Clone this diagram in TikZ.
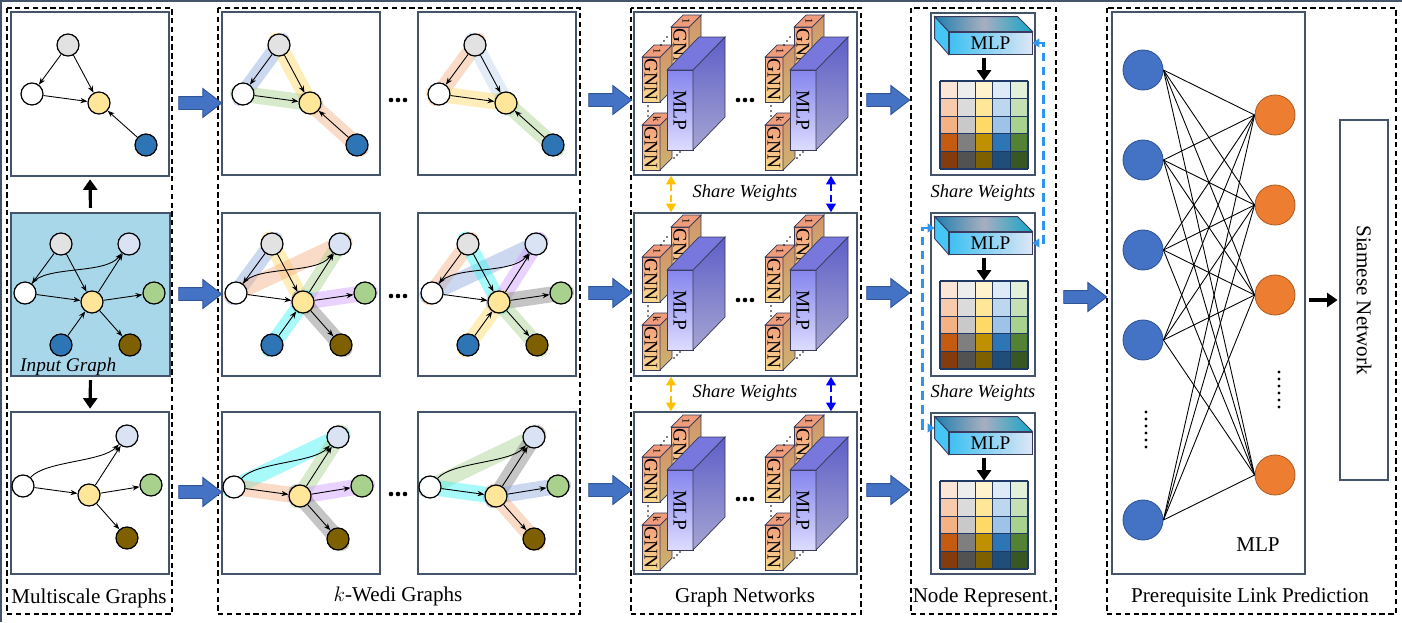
\documentclass[tikz,border=0pt]{standalone}
\usepackage{fontspec}
\setmainfont{Liberation Serif}
\usetikzlibrary{arrows.meta, positioning, shapes.arrows, fit, backgrounds}
\definecolor{frame}{HTML}{44546A}
\definecolor{nGray}{HTML}{E2E2E2}
\definecolor{nLblue}{HTML}{DAE3F3}
\definecolor{nYel}{HTML}{FFE699}
\definecolor{nGreen}{HTML}{A9D18E}
\definecolor{nBlue}{HTML}{2E75B6}
\definecolor{nBrown}{HTML}{7F6000}
\definecolor{inFill}{HTML}{A9D7EA}
\definecolor{fatBlue}{HTML}{4472C4}
\definecolor{fatEdge}{HTML}{2F5597}
\definecolor{hBlue}{HTML}{8FAADC}
\definecolor{hYel}{HTML}{FFD966}
\definecolor{hGreen}{HTML}{A9D18E}
\definecolor{hSalmon}{HTML}{F4B183}
\definecolor{hCyan}{HTML}{3FF5F5}
\definecolor{hViolet}{HTML}{D09CFF}
\definecolor{hGray}{HTML}{7F7F7F}
\definecolor{hLblue}{HTML}{BDD7EE}
\definecolor{gnnTop}{HTML}{F2A07E}
\definecolor{gnnBot}{HTML}{FAD88E}
\definecolor{gnnSideA}{HTML}{D3946A}
\definecolor{gnnSideB}{HTML}{CDB473}
\definecolor{gnnLid}{HTML}{EE9C7C}
\definecolor{mlpTop}{HTML}{8585EE}
\definecolor{mlpBot}{HTML}{DCDCFF}
\definecolor{mlpSideA}{HTML}{5F5FC8}
\definecolor{mlpSideB}{HTML}{A5A5D2}
\definecolor{mlpLid}{HTML}{7777DD}
\definecolor{boxLine}{HTML}{3A3A5A}
\definecolor{barL}{HTML}{3EC0F2}
\definecolor{barR}{HTML}{DCE6F5}
\definecolor{barLidA}{HTML}{1E7FB0}
\definecolor{barLidB}{HTML}{A8AEBF}
\definecolor{barSide}{HTML}{45C6F5}
\definecolor{gridLine}{HTML}{1F3864}
\definecolor{shareO}{HTML}{FFC000}
\definecolor{shareB}{HTML}{0000FF}
\definecolor{shareL}{HTML}{2E95EE}
\definecolor{nnBlue}{HTML}{4472C4}
\definecolor{nnOrange}{HTML}{ED7D31}
\tikzset{
  vx/.style={circle, draw=black, line width=0.7pt, minimum size=0.44cm, inner sep=0pt},
  gedge/.style={-{Stealth[length=4pt,width=3pt]}, line width=0.5pt},
  hl/.style={draw=#1, line width=9pt, line cap=round, opacity=0.45, shorten <=-3pt, shorten >=-3pt},
  panel/.style={draw=frame, line width=0.8pt, inner sep=0pt},
  colbox/.style={draw=black, line width=0.6pt, dash pattern=on 3pt off 2pt},
  fat/.style={single arrow, draw=fatEdge, fill=fatBlue, minimum height=0.86cm, inner xsep=0pt, inner ysep=0.12cm,
    single arrow head extend=0.16cm, single arrow tip angle=75, line width=0.5pt},
  blk/.style={-{Triangle[width=8pt,length=6pt]}, line width=1.8pt},
  lbl/.style={font=\fontsize{12}{14}\selectfont},
  sw/.style={font=\fontsize{10.5}{12}\selectfont\itshape},
  shO/.style={{Triangle[width=5.5pt,length=5pt]}-{Triangle[width=5.5pt,length=5pt]}, draw=shareO, line width=1.5pt, dash pattern=on 4pt off 2.5pt},
  shB/.style={shO, draw=shareB},
  shL/.style={{Triangle[width=5pt,length=4pt]}-{Triangle[width=5pt,length=4pt]}, draw=shareL, line width=1.7pt, dash pattern=on 5pt off 3pt},
  mlpbar/.style={draw=boxLine, line width=0.5pt, left color=barL, right color=barR, minimum width=1.66cm,
    minimum height=0.44cm, inner sep=0pt, font=\fontsize{11}{11}\selectfont},
  nin/.style={circle, fill=nnBlue, draw=fatEdge, line width=0.5pt, minimum size=0.8cm, inner sep=0pt},
  nout/.style={circle, fill=nnOrange, draw=nnOrange!75!black, line width=0.5pt, minimum size=0.8cm, inner sep=0pt},
  pics/gnn/.style={code={
    \shadedraw[top color=gnnTop, bottom color=gnnBot, draw=boxLine, line width=0.4pt] (0,0) rectangle (18,45);
    \shadedraw[top color=gnnSideA, bottom color=gnnSideB, draw=boxLine, line width=0.4pt] (18,0) -- (30,-12) -- (30,33) -- (18,45) -- cycle;
    \filldraw[fill=gnnLid, draw=boxLine, line width=0.4pt] (0,0) -- (12,-12) -- (30,-12) -- (18,0) -- cycle;
    \node[rotate=-90, inner sep=0pt, font=\fontsize{11}{11}\selectfont] (-txt) at (9,22.5) {GNN};
    \node[rotate=-90, inner sep=0pt, font=\fontsize{6}{6}\selectfont] (-idx) at (15,-6) {#1};
  }},
  pics/mlpblk/.style={code={
    \shadedraw[top color=mlpTop, bottom color=mlpBot, draw=boxLine, line width=0.4pt] (0,0) rectangle (26,80);
    \shadedraw[top color=mlpSideA, bottom color=mlpSideB, draw=boxLine, line width=0.4pt] (26,0) -- (58,-33) -- (58,47) -- (26,80) -- cycle;
    \filldraw[fill=mlpLid, draw=boxLine, line width=0.4pt] (0,0) -- (32,-33) -- (58,-33) -- (26,0) -- cycle;
    \node[rotate=-90, inner sep=0pt, font=\fontsize{11}{11}\selectfont] (-txt) at (13,40) {MLP};
  }},
}
% small graphs, positions taken from the panel's top left corner
\newcommand\graphA[2]{%
  \begin{scope}[shift={#2}]
    \node[vx, fill=nGray] (#1g) at (57,33) {};
    \node[vx, fill=white] (#1w) at (21,82) {};
    \node[vx, fill=nYel] (#1y) at (88,91) {};
    \node[vx, fill=nBlue] (#1b) at (135,133) {};
  \end{scope}
  \draw[gedge] (#1g) -- (#1w);
  \draw[gedge] (#1g) -- (#1y);
  \draw[gedge] (#1w) -- (#1y);
  \draw[gedge] (#1b) -- (#1y);
}
\newcommand\graphB[2]{%
  \begin{scope}[shift={#2}]
    \node[vx, fill=nGray] (#1g) at (50,31) {};
    \node[vx, fill=nLblue] (#1l) at (118,31) {};
    \node[vx, fill=white] (#1w) at (14,80) {};
    \node[vx, fill=nYel] (#1y) at (81,89) {};
    \node[vx, fill=nGreen] (#1gr) at (143,80) {};
    \node[vx, fill=nBlue] (#1b) at (50,132) {};
    \node[vx, fill=nBrown] (#1br) at (119,132) {};
  \end{scope}
  \draw[gedge] (#1g) -- (#1w);
  \draw[gedge] (#1g) -- (#1y);
  \draw[gedge] (#1w) -- (#1y);
  \draw[gedge] (#1w) .. controls +(20,-28) and +(-24,31) .. (#1l);
  \draw[gedge] (#1y) -- (#1l);
  \draw[gedge] (#1y) -- (#1gr);
  \draw[gedge] (#1y) -- (#1br);
  \draw[gedge] (#1b) -- (#1y);
}
\newcommand\graphC[2]{%
  \begin{scope}[shift={#2}]
    \node[vx, fill=nLblue] (#1l) at (116,24) {};
    \node[vx, fill=white] (#1w) at (12,74) {};
    \node[vx, fill=nYel] (#1y) at (78,83) {};
    \node[vx, fill=nGreen] (#1gr) at (140,73) {};
    \node[vx, fill=nBrown] (#1br) at (116,126) {};
  \end{scope}
  \draw[gedge] (#1w) .. controls +(22,-25) and +(-25,26) .. (#1l);
  \draw[gedge] (#1w) -- (#1y);
  \draw[gedge] (#1y) -- (#1l);
  \draw[gedge] (#1y) -- (#1gr);
  \draw[gedge] (#1y) -- (#1br);
}
\newcommand\bands[2]{%
  \begin{scope}[on background layer]
    \foreach \p/\q/\c in {#2} \draw[hl=\c] (#1\p.center) -- (#1\q.center);
  \end{scope}}
\newcommand\gnnstack[2]{%
  \begin{scope}[shift={#2}]
    \pic (#1a) at (671,27) {gnn=1};
    \pic (#1b) at (642,57) {gnn=1};
    \pic (#1c) at (642,125) {gnn=k};
    \foreach \k in {0,1,2} {
      \fill (648,106+5*\k) circle (0.5pt);
      \fill (661+3*\k,45-4*\k) circle (0.5pt);
      \fill (674+3*\k,158-3*\k) circle (0.5pt);
    }
    \pic (#1m) at (667,70) {mlpblk};
  \end{scope}}
\newcommand\repmlp[2]{%
  \node[mlpbar] (#1) at #2 {MLP};
  \shadedraw[left color=barLidA, right color=barLidA!70!cyan, middle color=barLidB, draw=boxLine, line width=0.5pt]
    (#1.north west) -- ++(-14,-15) -- ++(83,0) -- (#1.north east) -- cycle;
  \filldraw[fill=barSide, draw=boxLine, line width=0.5pt]
    (#1.north west) -- ++(-14,-15) -- ++(0,22) -- (#1.south west) -- cycle;
}
\newcommand\repgrid[2]{%
  \begin{scope}[shift={#2}]
    \foreach \cl [count=\i from 0] in {{FBE5D6,F8CBAD,F4B183,C55A11,843C0C},{EDEDED,DBDBDB,C9C9C9,7F7F7F,525252},{FFF2CC,FFE699,FFD966,BF9000,7F6000},{DEEBF7,BDD7EE,9DC3E6,2E75B6,1F4E79},{E2F0D9,C5E0B4,A9D18E,548235,385723}}
      \foreach \hx [count=\j from 0] in \cl {
        \definecolor{cellc}{HTML}{\hx}
        \fill[cellc] (17.6*\i,17.6*\j) rectangle ++(17.6,17.6);
      }
    \foreach \k in {0,...,5} {
      \draw[gridLine, line width=0.6pt] (17.6*\k,0) -- (17.6*\k,88);
      \draw[gridLine, line width=0.6pt] (0,17.6*\k) -- (88,17.6*\k);
    }
    \node[fit={(0,0) (88,88)}, inner sep=0pt] (#1) {};
  \end{scope}}
\newcommand\threedots[1]{%
  \foreach \k in {-1,0,1} \fill #1 ++(7*\k,0) circle (1.3pt);}

\begin{document}
\begin{tikzpicture}[x=0.02cm, y=-0.02cm]
  \begin{scope}[on background layer]
    \fill[white] (0,0) rectangle (1402,622);
  \end{scope}
  \useasboundingbox (0,0) rectangle (1402,622);
  \draw[frame, line width=0.8pt] (1,622) -- (1,1) -- (1402,1);

  % column frames
  \draw[colbox] (7,8) rectangle (172,614);
  \draw[colbox] (218,8) rectangle (580,614);
  \draw[colbox] (631,8) rectangle (861,614);
  \draw[colbox] (911,8) rectangle (1056,614);
  \draw[colbox] (1107,8) rectangle (1396,614);

  % multiscale graphs
  \node[panel, fit={(11,12) (169,176)}] (p1) {};
  \node[panel, fill=inFill, fit={(11,213) (170,376)}] (p2) {};
  \node[panel, fit={(11,412) (169,574)}] (p3) {};
  \graphA{i1}{(11,12)}
  \graphB{i2}{(11,213)}
  \graphC{i3}{(11,412)}
  \node[anchor=west, font=\fontsize{11}{12}\selectfont\itshape] (inp) at (14,367) {Input Graph};
  \draw[blk, shorten <=2.5pt, shorten >=1.5pt] (p2.north) -- (p1.south);
  \draw[blk, shorten <=2pt, shorten >=1.5pt] (p2.south) -- (p3.north);
  \node[lbl] (t1) at (89,598) {Multiscale Graphs};

  % k-wedi graphs
  \foreach \xx/\s in {222/a, 418/b} {
    \node[panel, fit={(\xx,12) (\xx+158,175)}] (w1\s) {};
    \node[panel, fit={(\xx,213) (\xx+158,376)}] (w2\s) {};
    \node[panel, fit={(\xx,412) (\xx+158,574)}] (w3\s) {};
  }
  \graphA{r1a}{(222,12)}
  \graphA{r1b}{(418,12)}
  \graphB{r2a}{(222,213)}
  \graphB{r2b}{(418,213)}
  \graphC{r3a}{(222,413)}
  \graphC{r3b}{(418,413)}
  \bands{r1a}{g/w/hBlue, g/y/hYel, w/y/hGreen, y/b/hSalmon}
  \bands{r1b}{g/w/hSalmon, g/y/hLblue, w/y/hYel, y/b/hGreen}
  \bands{r2a}{g/w/hBlue, g/y/hYel, w/l/hSalmon, y/l/hGreen, y/gr/hViolet, y/br/hGray, b/y/hCyan}
  \bands{r2b}{g/w/hSalmon, w/l/hBlue, g/y/hCyan, y/l/hViolet, y/gr/hGray, y/br/hGreen, b/y/hYel}
  \bands{r3a}{w/l/hCyan, w/y/hSalmon, y/l/hGreen, y/gr/hViolet, y/br/hGray}
  \bands{r3b}{w/l/hGreen, w/y/hCyan, y/l/hGray, y/gr/hBlue, y/br/hSalmon}
  \threedots{(398,100)}
  \threedots{(398,296)}
  \threedots{(398,494)}
  \node[lbl] (t2) at (398,596) {$k$-Wedi Graphs};

  % graph networks
  \node[panel, fit={(634,12) (857,175)}] (g1) {};
  \node[panel, fit={(634,213) (857,376)}] (g2) {};
  \node[panel, fit={(634,412) (857,574)}] (g3) {};
  \foreach \r in {0,1,2}
    \foreach \g in {0,1} {\gnnstack{s\r\g}{(123*\g,200*\r)}}
  \threedots{(745,100)}
  \threedots{(745,300)}
  \threedots{(745,499)}
  \draw[shO] ([xshift=-1.49cm]g1.south) -- ([xshift=-1.49cm]g2.north);
  \draw[shO] ([xshift=-1.49cm]g2.south) -- ([xshift=-1.49cm]g3.north);
  \draw[shB] ([xshift=1.71cm]g1.south) -- ([xshift=1.71cm]g2.north);
  \draw[shB] ([xshift=1.71cm]g2.south) -- ([xshift=1.71cm]g3.north);
  \node[sw] (sw1) at (745,193) {Share Weights};
  \node[sw] (sw2) at (745,393) {Share Weights};
  \node[lbl] (t3) at (745,597) {Graph Networks};

  % node representation
  \node[panel, fit={(931,13) (1035,175)}] (n1) {};
  \node[panel, fit={(931,213) (1035,376)}] (n2) {};
  \node[panel, fit={(931,413) (1035,574)}] (n3) {};
  \foreach \r in {0,1,2} {
    \repmlp{m\r}{(990.5,43+200*\r)}
    \repgrid{x\r}{(940,81+200*\r)}
    \draw[blk, shorten <=2pt] (m\r.south -| x\r.north) -- (x\r.north);
  }
  \draw[shL] (m0.east) -- ++(11,0) |- (m1.east);
  \draw[shL] ([shift={(-14,-15)}]m1.west) -- ++(-12,0) |- ([shift={(-14,-15)}]m2.west);
  \node[sw] (sw3) at (983,193) {Share Weights};
  \node[sw] (sw4) at (983,393) {Share Weights};
  \node[lbl] (t4) at (983,597) {Node Represent.};

  % prediction
  \node[panel, fit={(1112,12) (1305,574)}] (mp) {};
  \foreach \yy [count=\i] in {70,160,250,340,520} \node[nin] (b\i) at (1143,\yy) {};
  \foreach \yy [count=\j] in {115,205,295,475} \node[nout] (o\j) at (1275,\yy) {};
  \foreach \i in {1,...,5}
    \foreach \j in {1,...,4} \draw[line width=0.5pt] (b\i.east) -- (o\j.west);
  \foreach \k in {0,...,5} {
    \fill (1146,412+7*\k) circle (0.9pt);
    \fill (1279,372+7*\k) circle (0.9pt);
  }
  \node[lbl] (mlpT) at (1258,545) {MLP};
  \node[panel, fit={(1340,120) (1388,480)}] (siam) {};
  \node[lbl, rotate=-90] (siamT) at (siam.center) {Siamese Network};
  \draw[blk, shorten <=2pt, shorten >=1pt] (mp.east |- siam.west) -- (siam.west);
  \node[lbl] (t5) at (1250,597) {Prerequisite Link Prediction};

  % block arrows between stages
  \foreach \yy [count=\i] in {103,294,492} \node[fat] (fa\i) at (196,\yy) {};
  \foreach \yy [count=\i] in {100,293,490} \node[fat] (fb\i) at (606,\yy) {};
  \foreach \yy [count=\i] in {100,293,490} \node[fat] (fc\i) at (884,\yy) {};
  \node[fat] (fd) at (1081,297) {};
\end{tikzpicture}
\end{document}
